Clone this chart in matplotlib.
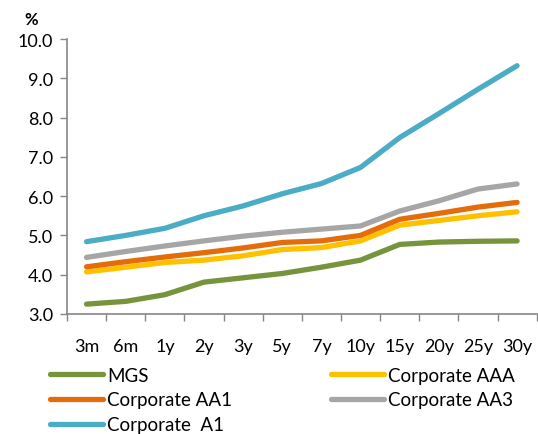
import numpy as np
import matplotlib.pyplot as plt

plt.rcParams['font.family'] = ['Lato', 'DejaVu Sans']

tenors = ['3m', '6m', '1y', '2y', '3y', '5y', '7y', '10y', '15y', '20y', '25y', '30y']
mgs = [3.25, 3.32, 3.49, 3.81, 3.92, 4.03, 4.19, 4.37, 4.77, 4.83, 4.85, 4.86]
aaa = [4.07, 4.19, 4.31, 4.37, 4.48, 4.64, 4.69, 4.86, 5.26, 5.38, 5.50, 5.60]
aa1 = [4.20, 4.33, 4.45, 4.56, 4.68, 4.82, 4.86, 5.00, 5.41, 5.56, 5.72, 5.84]
aa3 = [4.44, 4.59, 4.73, 4.86, 4.98, 5.08, 5.16, 5.24, 5.62, 5.88, 6.18, 6.31]
a1 = [4.84, 5.00, 5.18, 5.50, 5.75, 6.06, 6.32, 6.73, 7.49, 8.10, 8.72, 9.32]

fig = plt.figure(figsize=(5.38, 4.35), dpi=100)
ax = fig.add_axes([0.1245, 0.276, 0.873, 0.632])

x = np.arange(len(tenors))
lw = 3.8
l_mgs, = ax.plot(x, mgs, color='#77933C', lw=lw, solid_capstyle='round', label='MGS')
l_aaa, = ax.plot(x, aaa, color='#FFC000', lw=lw, solid_capstyle='round', label='Corporate AAA')
l_aa1, = ax.plot(x, aa1, color='#E46C0A', lw=lw, solid_capstyle='round', label='Corporate AA1')
l_aa3, = ax.plot(x, aa3, color='#A6A6A6', lw=lw, solid_capstyle='round', label='Corporate AA3')
l_a1, = ax.plot(x, a1, color='#4BACC6', lw=lw, solid_capstyle='round', label='Corporate  A1')

ax.set_xlim(-0.5, 11.5)
ax.set_ylim(3, 10)
ax.set_yticks(np.arange(3, 10.5, 1.0))
ax.set_yticklabels([f'{v:.1f}' for v in np.arange(3, 10.5, 1.0)], fontsize=13)
ax.set_xticks(x)
ax.set_xticklabels(tenors, fontsize=13)
ax.set_xticks(np.arange(-0.5, 12, 1.0), minor=True)
ax.tick_params(axis='x', which='major', length=0, pad=17)
ax.tick_params(axis='x', which='minor', length=5, color='#868686', width=1)
ax.tick_params(axis='y', length=5, color='#868686', width=1, pad=5)

for s in ['top', 'right']:
    ax.spines[s].set_visible(False)
for s in ['left', 'bottom']:
    ax.spines[s].set_color('#868686')
    ax.spines[s].set_linewidth(1.2)

fig.text(0.045, 0.955, '%', fontsize=12, fontweight='bold', ha='left', va='center')

fig.legend([l_mgs, l_aa1, l_a1, l_aaa, l_aa3],
           ['MGS', 'Corporate AA1', 'Corporate  A1', 'Corporate AAA', 'Corporate AA3'],
           ncol=2, loc='upper left', bbox_to_anchor=(0.093, 0.155), frameon=False,
           fontsize=13.5, handlelength=2.83, handletextpad=0.2, labelspacing=0.42,
           columnspacing=5.3, borderpad=0, borderaxespad=0)

fig.savefig('out.png', dpi=100)
